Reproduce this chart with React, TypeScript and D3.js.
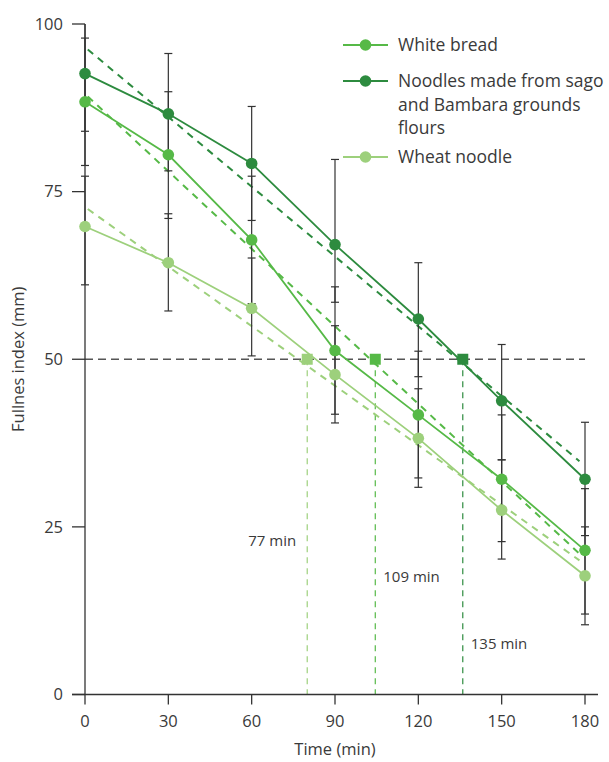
import React from "react";
import * as d3 from "d3";

const times = [0, 30, 60, 90, 120, 150, 180];
const xTicks = [0, 30, 60, 90, 120, 150, 180];
const yTicks = [0, 25, 50, 75, 100];

const seriesNames = ["White bread", "Noodles made from sago|and Bambara grounds|flours", "Wheat noodle"];
const seriesColors = ["#56b947", "#2d8b3f", "#9dd07c"];

const whiteBread = [88.4, 80.5, 67.8, 51.3, 41.7, 32.1, 21.5];
const noodle = [92.6, 86.6, 79.2, 67.1, 56.0, 43.8, 32.1];
const wheat = [69.8, 64.4, 57.6, 47.7, 38.2, 27.5, 17.7];

const whiteUpper = [97.9, 89.9, 77.3, 60.8, 51.2, 41.7, 30.7];
const whiteLower = [78.9, 71.0, 58.3, 41.8, 32.3, 22.8, 12.0];
const noodleUpper = [101.1, 95.6, 87.7, 79.8, 64.4, 52.2, 40.6];
const noodleLower = [84.0, 78.1, 70.7, 58.5, 47.4, 35.0, 23.7];
const wheatUpper = [77.3, 71.7, 65.1, 55.0, 45.6, 35.0, 25.0];
const wheatLower = [61.1, 57.2, 50.5, 40.5, 30.9, 20.2, 10.4];

// fitted (dashed) lines: value at start and end time
const trendTimes = [1, 178];
const whiteTrend = [89.2, 21.0];
const noodleTrend = [96.2, 34.8];
const wheatTrend = [72.4, 20.0];

// half-time markers at fullness 50
const halfLevel = 50;
const halfTimes = [80, 104.5, 136];
const halfColorIdx = [2, 0, 1];
const halfLabels = ["77 min", "109 min", "135 min"];
const halfLabelY = [23, 17.5, 7.5];

const values = [whiteBread, noodle, wheat];
const uppers = [whiteUpper, noodleUpper, wheatUpper];
const lowers = [whiteLower, noodleLower, wheatLower];
const trends = [whiteTrend, noodleTrend, wheatTrend];

const FONT = "'Open Sans', 'Noto Sans', sans-serif";
const TEXT = "#3a3a3a";

export default function App() {
  const x = d3.scaleLinear().domain([0, 180]).range([85, 585]);
  const y = d3.scaleLinear().domain([0, 100]).range([694.5, 24]);
  const line = d3
    .line<[number, number]>()
    .x((d) => x(d[0]))
    .y((d) => y(d[1]));
  const capW = 4;
  const yTop = y(100);

  return (
    <svg
      width={609}
      height={762}
      style={{ position: "absolute", left: 0, top: 0, background: "#fff" }}
      fontFamily={FONT}
    >
      {/* 50% reference line */}
      <line
        x1={x(0)}
        x2={x(180)}
        y1={y(halfLevel)}
        y2={y(halfLevel)}
        stroke="#555"
        strokeWidth={1.5}
        strokeDasharray="8 5"
      />
      {/* vertical half-time lines */}
      {halfTimes.map((t, i) => (
        <line
          key={"hv" + i}
          x1={x(t)}
          x2={x(t)}
          y1={y(halfLevel)}
          y2={y(0)}
          stroke={seriesColors[halfColorIdx[i]]}
          strokeWidth={1.2}
          strokeDasharray="6 5"
        />
      ))}
      {/* trend dashed lines */}
      {trends.map((tr, i) => (
        <path
          key={"tr" + i}
          d={line([
            [trendTimes[0], tr[0]],
            [trendTimes[1], tr[1]],
          ])!}
          fill="none"
          stroke={seriesColors[i]}
          strokeWidth={2}
          strokeDasharray="7 6"
        />
      ))}
      {/* series lines */}
      {values.map((vals, i) => (
        <path
          key={"ln" + i}
          d={line(times.map((t, j) => [t, vals[j]] as [number, number]))!}
          fill="none"
          stroke={seriesColors[i]}
          strokeWidth={1.8}
        />
      ))}
      {/* error bars */}
      {values.map((vals, i) =>
        times.map((t, j) => {
          const hi = Math.min(uppers[i][j], 100);
          const lo = lowers[i][j];
          const cx = x(t);
          return (
            <g key={"eb" + i + "-" + j} stroke="#333" strokeWidth={1.2}>
              <line x1={cx} x2={cx} y1={y(hi)} y2={y(lo)} />
              {uppers[i][j] <= 100 && (
                <line x1={cx - capW} x2={cx + capW} y1={y(hi)} y2={y(hi)} />
              )}
              <line x1={cx - capW} x2={cx + capW} y1={y(lo)} y2={y(lo)} />
            </g>
          );
        })
      )}
      {/* axes */}
      <g stroke="#333" strokeWidth={1.3}>
        <line x1={x(0)} x2={x(0)} y1={yTop} y2={y(0)} />
        <line x1={72} x2={598} y1={y(0)} y2={y(0)} />
        {yTicks.map((v) => (
          <line key={"yt" + v} x1={72} x2={x(0)} y1={y(v)} y2={y(v)} />
        ))}
        {xTicks.map((v) => (
          <line key={"xt" + v} x1={x(v)} x2={x(v)} y1={y(0)} y2={y(0) + 10} />
        ))}
      </g>
      {yTicks.map((v) => (
        <text
          key={"yl" + v}
          x={63}
          y={y(v)}
          dy="0.35em"
          textAnchor="end"
          fontSize={16.5}
          fill={TEXT}
        >
          {v}
        </text>
      ))}
      {xTicks.map((v) => (
        <text
          key={"xl" + v}
          x={x(v)}
          y={727}
          textAnchor="middle"
          fontSize={16.5}
          fill={TEXT}
        >
          {v}
        </text>
      ))}
      <text x={x(90)} y={755} textAnchor="middle" fontSize={16.5} fill={TEXT}>
        Time (min)
      </text>
      <text
        transform={`translate(24, ${y(50)}) rotate(-90)`}
        textAnchor="middle"
        fontSize={16.5}
        fill={TEXT}
      >
        Fullnes index (mm)
      </text>
      {/* square markers at half-time */}
      {halfTimes.map((t, i) => (
        <rect
          key={"sq" + i}
          x={x(t) - 5.5}
          y={y(halfLevel) - 5.5}
          width={11}
          height={11}
          fill={seriesColors[halfColorIdx[i]]}
        />
      ))}
      {/* half-time labels */}
      {halfTimes.map((t, i) => (
        <text
          key={"hl" + i}
          x={i === 0 ? x(t) - 11 : x(t) + 8}
          y={y(halfLabelY[i])}
          dy="0.35em"
          textAnchor={i === 0 ? "end" : "start"}
          fontSize={15}
          fill={TEXT}
        >
          {halfLabels[i]}
        </text>
      ))}
      {/* markers */}
      {values.map((vals, i) =>
        times.map((t, j) => (
          <circle
            key={"pt" + i + "-" + j}
            cx={x(t)}
            cy={y(vals[j])}
            r={5.8}
            fill={seriesColors[i]}
          />
        ))
      )}
      {/* legend */}
      {[0, 1, 2].map((i) => {
        const ly = [45, 81, 157][i];
        const lines = seriesNames[i].split("|");
        return (
          <g key={"lg" + i}>
            <line x1={343} x2={388} y1={ly} y2={ly} stroke={seriesColors[i]} strokeWidth={1.8} />
            <circle cx={365.5} cy={ly} r={5.8} fill={seriesColors[i]} />
            <text x={398} y={ly} fontSize={17.5} fill={TEXT}>
              {lines.map((s, k) => (
                <tspan key={k} x={398} dy={k === 0 ? "0.35em" : 23.5}>
                  {s}
                </tspan>
              ))}
            </text>
          </g>
        );
      })}
    </svg>
  );
}
